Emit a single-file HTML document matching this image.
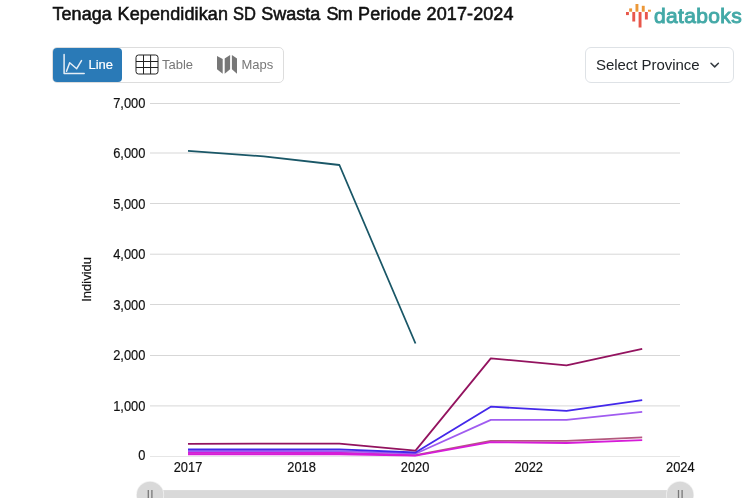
<!DOCTYPE html>
<html lang="id">
<head>
<meta charset="utf-8">
<title>Tenaga Kependidikan SD Swasta Sm Periode 2017-2024</title>
<style>
html,body{margin:0;padding:0;background:#fff;}
body{width:753px;height:498px;overflow:hidden;position:relative;font-family:"Liberation Sans",sans-serif;color:#000;}
.abs{position:absolute;}
#title,#logotext,#tabs,#select,#chart{will-change:transform;}
#title{left:52px;top:2px;width:500px;height:24px;font-size:18px;line-height:24px;white-space:nowrap;color:#111;-webkit-text-stroke:0.55px #111;}
#title span{position:absolute;top:0;}
#logo{left:625px;top:0;width:128px;height:32px;}
#logotext{left:653.6px;top:2.8px;font-size:21px;line-height:26px;font-weight:normal;color:#43a9a7;-webkit-text-stroke:0.95px #43a9a7;letter-spacing:0.35px;white-space:nowrap;}
#tabs{left:52px;top:47px;width:230px;height:34px;border:1px solid #ddd;border-radius:5px;background:#fff;}
.tab{position:absolute;top:0;height:34px;font-size:13px;line-height:34px;color:#777;white-space:nowrap;}
#tab-line{left:0;width:69px;background:#2a7ab7;border-radius:4px;color:#fff;}
#tab-line span{position:absolute;left:35.5px;top:0;-webkit-text-stroke:0.2px #fff;}
#tab-table span{position:absolute;left:109px;top:0;}
#tab-maps span{position:absolute;left:188.4px;top:0;}
#select{left:585px;top:47px;width:147px;height:34px;border:1px solid #dee2e6;border-radius:6px;background:#fff;font-size:15px;line-height:34px;color:#212529;}
#select span{position:absolute;left:10px;top:0;white-space:nowrap;letter-spacing:-0.05px;}
svg text{font-family:"Liberation Sans",sans-serif;}
</style>
</head>
<body>
<div id="title" class="abs"><span style="left:0.5px;letter-spacing:0.05px">Tenaga</span> <span style="left:65.6px;letter-spacing:0.12px">Kependidikan</span> <span style="left:180.8px;transform:scaleX(0.915);transform-origin:0 0">SD</span> <span style="left:209.3px;letter-spacing:0px">Swasta</span> <span style="left:274.4px;letter-spacing:-0.6px">Sm</span> <span style="left:306.1px;letter-spacing:0.13px">Periode</span> <span style="left:374.6px;letter-spacing:0.1px">2017-2024</span></div>

<svg id="logo" class="abs" viewBox="0 0 128 32">
  <g fill="#ec9838">
    <rect x="4.2" y="8.4" width="2.9" height="3.3"/>
    <rect x="10.5" y="4" width="2.9" height="7.7"/>
    <rect x="16.8" y="5.8" width="2.9" height="5.9"/>
    <rect x="23" y="9.7" width="2.9" height="2"/>
  </g>
  <g fill="#e8574b">
    <rect x="1" y="12" width="2.9" height="3.1"/>
    <rect x="7.3" y="12" width="2.9" height="9.5"/>
    <rect x="13.6" y="12" width="2.9" height="15.5"/>
    <rect x="19.9" y="12" width="2.9" height="7.5"/>
  </g>
</svg>
<div id="logotext" class="abs">databoks</div>

<div id="tabs" class="abs">
  <div id="tab-line" class="tab"><span>Line</span></div>
  <div id="tab-table" class="tab"><span>Table</span></div>
  <div id="tab-maps" class="tab"><span>Maps</span></div>
  <svg class="abs" style="left:0;top:0" width="230" height="34" viewBox="53 48 230 34">
    <g fill="none" stroke="#e6eef6" stroke-width="1.5" stroke-linecap="round" stroke-linejoin="round">
      <path d="M64.1 54.4 V73.6 H84.2"/>
      <path d="M66.5 71.3 L69.7 62.7 L76.7 68.7 L81.5 60.6"/>
    </g>
    <g fill="none" stroke="#222" stroke-width="1">
      <rect x="136" y="55" width="22" height="19" rx="2.5"/>
      <path d="M143.5 55 V74 M150.6 55 V74 M136 61.5 H158 M136 67.5 H158"/>
    </g>
    <g fill="#777">
      <path d="M217 56.1 L222.7 58.9 L222.7 73.8 L217 69.3 Z"/>
      <path d="M224.7 58.5 L230.1 54.9 L230.1 69.3 L224.7 73.8 Z"/>
      <path d="M231.9 54.9 L237 58.5 L237 73.8 L231.9 69.3 Z"/>
    </g>
  </svg>
</div>

<div id="select" class="abs"><span>Select Province</span>
  <svg class="abs" style="left:123px;top:13px" width="12" height="8" viewBox="0 0 12 8"><path d="M2.0 2.2 L5.7 5.9 L9.4 2.2" fill="none" stroke="#343a40" stroke-width="1.5" stroke-linecap="round" stroke-linejoin="round"/></svg>
</div>

<svg id="chart" class="abs" style="left:0;top:90px" width="753" height="408" viewBox="0 90 753 408">
  <g stroke="#d7d7d7" stroke-width="1" fill="none">
    <path d="M150 103.5 H680"/>
    <path d="M150 153.0 H680"/>
    <path d="M150 203.5 H680"/>
    <path d="M150 254.2 H680"/>
    <path d="M150 304.5 H680"/>
    <path d="M150 355.5 H680"/>
    <path d="M150 405.9 H680"/>
    <path d="M150 456.5 H680" stroke="#e6e6e6"/>
  </g>
  <g font-size="14.4" stroke="#111" stroke-width="0.2" fill="#111" text-anchor="end">
    <text transform="translate(145.4 107.75) scale(0.895 1)">7,000</text>
    <text transform="translate(145.4 158.15) scale(0.895 1)">6,000</text>
    <text transform="translate(145.4 208.65) scale(0.895 1)">5,000</text>
    <text transform="translate(145.4 259.35) scale(0.895 1)">4,000</text>
    <text transform="translate(145.4 309.65) scale(0.895 1)">3,000</text>
    <text transform="translate(145.4 360.45) scale(0.895 1)">2,000</text>
    <text transform="translate(145.4 410.85) scale(0.895 1)">1,000</text>
    <text transform="translate(145.4 460.45) scale(0.895 1)">0</text>
  </g>
  <g font-size="14.4" stroke="#111" stroke-width="0.2" fill="#111" text-anchor="middle">
    <text transform="translate(188 471.9) scale(0.895 1)">2017</text>
    <text transform="translate(301.6 471.9) scale(0.895 1)">2018</text>
    <text transform="translate(415.1 471.9) scale(0.895 1)">2020</text>
    <text transform="translate(528.7 471.9) scale(0.895 1)">2022</text>
    <text transform="translate(680.3 471.9) scale(0.895 1)">2024</text>
  </g>
  <text font-size="13.6" stroke="#111" stroke-width="0.2" fill="#111" text-anchor="middle" transform="translate(91.2 279.4) rotate(-90) scale(0.955 1)">Individu</text>
  <g fill="none" stroke-width="1.8" stroke-linejoin="round" stroke-linecap="butt">
    <polyline stroke="#1a5767" points="188,150.9 263.7,156.4 339.4,165.0 415.5,343.5"/>
    <polyline stroke="#b4587e" points="188,452.6 263.7,452.6 339.4,452.8 415.5,455.2 490.8,440.8 566.5,440.8 642.2,437.4"/>
    <polyline stroke="#d61cd8" points="188,452.9 263.7,452.9 339.4,453.0 415.5,455.3"/>
    <polyline stroke="#d61cd8" points="188,454.3 263.7,454.3 339.4,454.3 415.5,455.6 490.8,442.2 566.5,443.0 642.2,440.2"/>
    <polyline stroke="#a05cf0" points="188,451.0 263.7,451.0 339.4,451.2 415.5,453.7 490.8,419.9 566.5,419.8 642.2,411.8"/>
    <polyline stroke="#4328ea" points="188,449.3 263.7,449.3 339.4,449.4 415.5,452.5 490.8,406.7 566.5,410.9 642.2,400.2"/>
    <polyline stroke="#93135f" points="188,443.85 263.7,443.6 339.4,443.6 415.5,450.6 490.8,358.4 566.5,365.3 642.2,348.8"/>
  </g>
  <g>
    <rect x="150" y="490.1" width="530" height="10" fill="#d9d9d9"/>
    <circle cx="150.1" cy="494.9" r="14" fill="#f2f2f2"/>
    <circle cx="680.1" cy="494.9" r="14" fill="#f2f2f2"/>
    <circle cx="150.1" cy="494.9" r="13.25" fill="#d9d9d9"/>
    <circle cx="680.1" cy="494.9" r="13.25" fill="#d9d9d9"/>
    <path d="M148.3 490 V500 M151.9 490 V500 M678.5 490 V500 M682.1 490 V500" stroke="#787878" stroke-width="1.3" fill="none"/>
  </g>
</svg>
</body>
</html>
